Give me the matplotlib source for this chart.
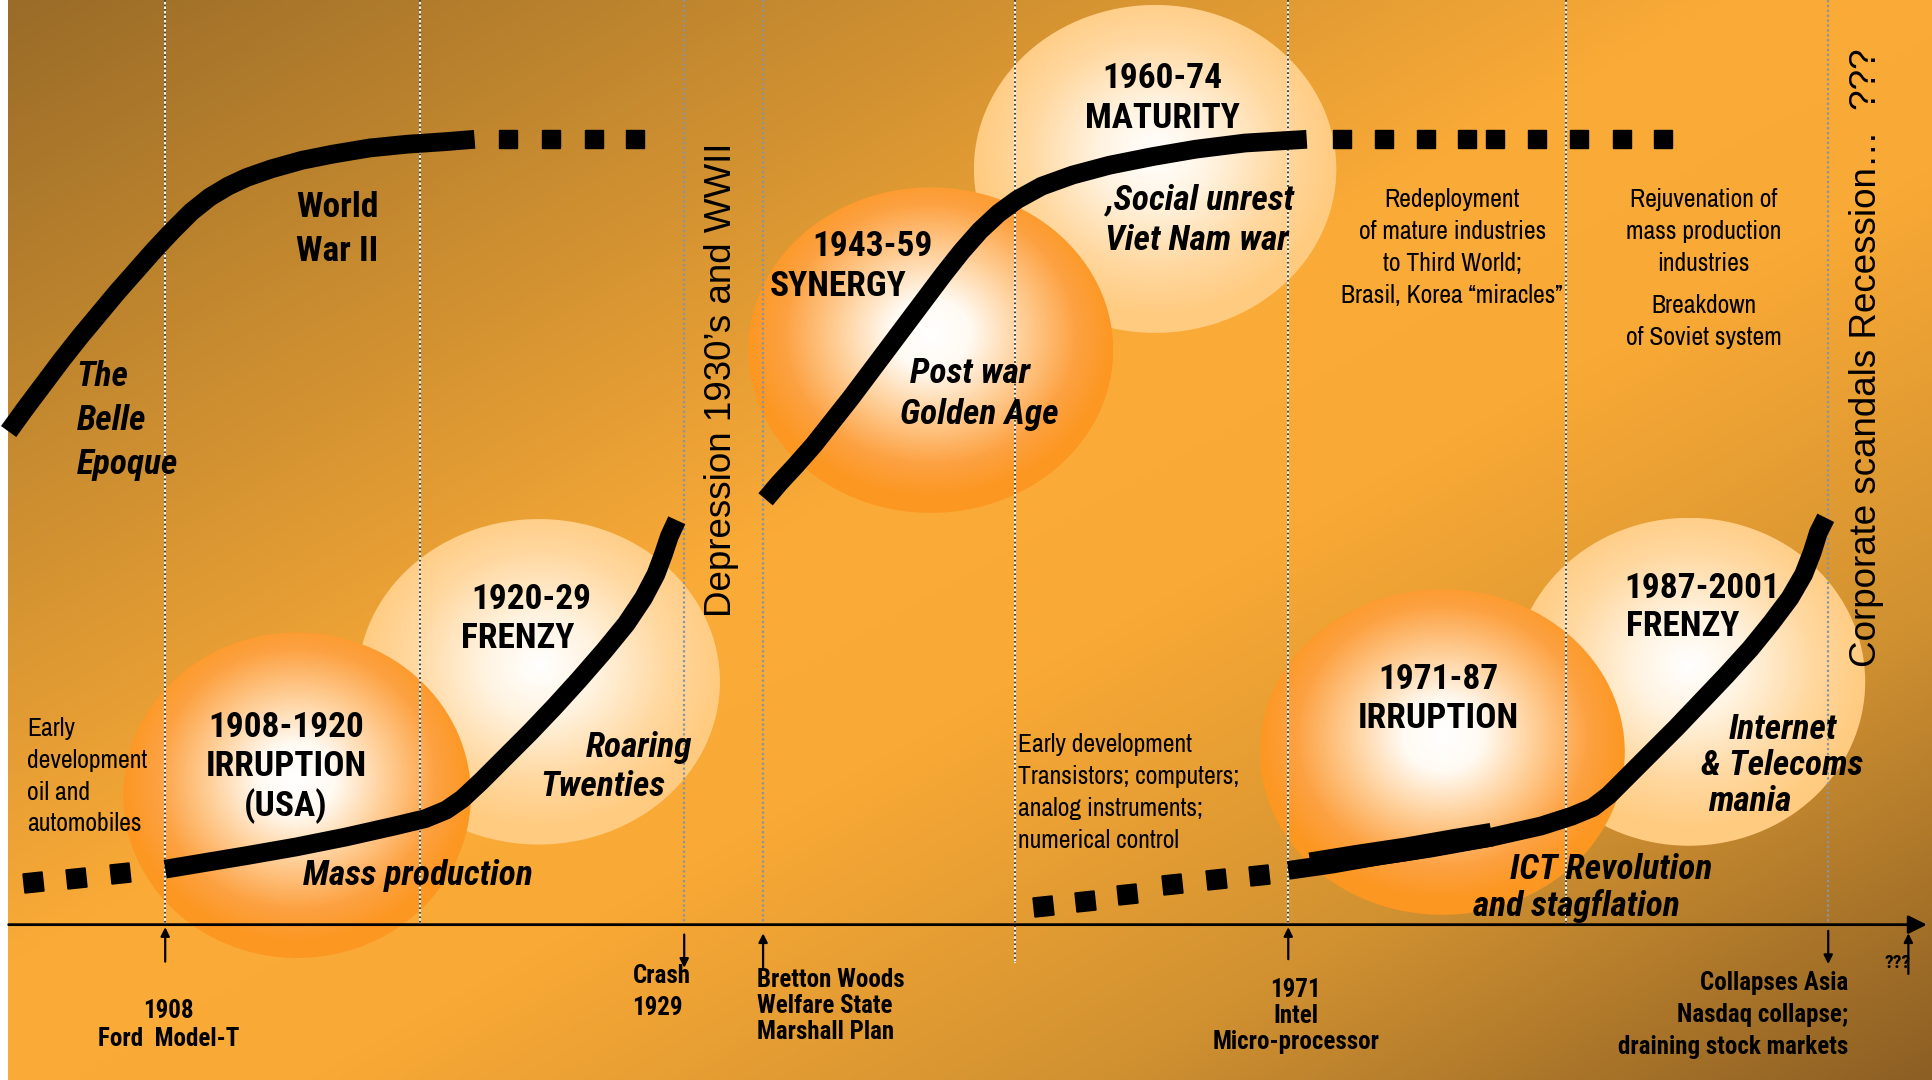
import numpy as np
import matplotlib.pyplot as plt
from matplotlib.patches import Ellipse
from matplotlib.colors import LinearSegmentedColormap

W, H = 1568, 876   # drawing units, y grows downwards

# thick black wave curves
belle_x = [7, 20, 35, 50, 65, 80, 95, 110, 125, 140, 155, 170, 185, 200, 220, 245,
           270, 300, 330, 360, 385]
belle_y = [350, 332, 312, 292, 273, 255, 237, 220, 203, 187, 172, 160, 151, 144, 137, 130,
           125, 120, 117, 115, 113]
mass_x = [134, 170, 200, 240, 280, 320, 345, 362, 375, 390, 410, 430, 450, 470, 490, 508,
          522, 532, 538, 543, 549]
mass_y = [705, 699, 694, 687, 679, 670, 664, 657, 648, 634, 614, 594, 573, 551, 528, 506,
          485, 466, 450, 435, 422]
golden_x = [621, 632, 645, 660, 675, 690, 705, 720, 735, 750, 765, 780, 795, 810, 825, 845,
            870, 900, 935, 970, 1010, 1060]
golden_y = [405, 392, 378, 361, 342, 323, 303, 283, 263, 243, 223, 204, 187, 173, 162, 151,
            142, 134, 127, 121, 116, 113]
ict_x = [1045, 1080, 1120, 1160, 1210, 1250, 1275, 1292, 1305, 1320, 1340, 1360, 1380, 1400,
         1420, 1437, 1452, 1463, 1470, 1475, 1481]
ict_y = [706, 701, 694, 688, 679, 670, 662, 655, 645, 630, 610, 590, 569, 548, 526, 505, 485,
         466, 448, 432, 420]
# thicker stretch of the ICT curve
ict_thick_x = [1063, 1100, 1140, 1180, 1210]
ict_thick_y = [701, 695, 689, 682, 677]

# square dashes continuing the curves
dash_top1_x = [412, 447, 482, 515]
dash_top1_y = [113, 113, 113, 113]
dash_top2_x = [1089, 1123, 1157, 1190, 1213, 1247, 1281, 1316, 1349]
dash_top2_y = [113, 113, 113, 113, 113, 113, 113, 113, 113]
dash_low1_x = [27, 62, 97]
dash_low1_y = [715, 712, 708]
dash_low2_x = [846, 880, 914, 951, 986, 1021]
dash_low2_y = [735, 731, 725, 717, 713, 710]

# phase bubbles
bubble_cx = [241, 437, 755, 937, 1170, 1370]
bubble_cy = [645, 553, 284, 137, 610, 553]
bubble_rx = [141, 147, 148, 147, 148, 143]
bubble_ry = [132, 132, 132, 133, 132, 133]
bubble_kind = ['irruption', 'frenzy', 'synergy', 'maturity', 'irruption', 'frenzy']

# vertical period dividers
divider_x = [134, 341, 555, 619, 823, 1045, 1270, 1483]
divider_end = [750, 750, 750, 750, 780, 750, 750, 750]
divider_kind = ['w', 'w', 'g', 'g', 'w', 'w', 'w', 'g']

# event arrows under the time axis
event_x = [134, 555, 619, 1045, 1483, 1548]
event_from = [780, 758, 785, 778, 755, 790]
event_to = [752, 785, 757, 752, 782, 757]
axis_y = 750

BOLDN = ['Roboto Condensed', 'Liberation Sans', 'DejaVu Sans']
NARROW = ['Archivo Narrow', 'Roboto Condensed', 'Liberation Sans', 'DejaVu Sans']
WIDE = ['Liberation Sans', 'DejaVu Sans']

fig = plt.figure(figsize=(19.33, 10.8), dpi=100, facecolor='white')
ax = fig.add_axes([0, 0, 1, 1])
ax.axis('off')

# background diagonal gradient
gx, gy = np.meshgrid(np.linspace(0, 1, 400), np.linspace(0, 1, 300))
bg = LinearSegmentedColormap.from_list('bg', [
    (0.0, '#9a6c28'), (0.22, '#c98c30'), (0.45, '#fbab37'), (0.58, '#f9a935'),
    (0.78, '#d29231'), (1.0, '#8c5f24')])
ax.imshow(bg((gx + gy) / 2), extent=(6.5, W, H, 0), aspect='auto',
          interpolation='bilinear', zorder=0)

orange_stops = [(0, '#ffffff'), (0.22, '#fffaf2'), (0.5, '#ffd09a'),
                (0.8, '#fda243'), (1.0, '#fc9722')]
pale_stops = [(0, '#ffffff'), (0.3, '#fff4e2'), (0.7, '#ffd8a0'),
              (1.0, '#ffcb80')]


def bubble(cx, cy, rx, ry, stops, z):
    u = np.linspace(-1, 1, 256)
    xx, yy = np.meshgrid(u, u)
    r = np.clip(np.hypot(xx, yy + 0.1), 0, 1)
    cm = LinearSegmentedColormap.from_list('b', stops)
    im = ax.imshow(cm(r), extent=(cx - rx, cx + rx, cy + ry, cy - ry),
                   aspect='auto', interpolation='bilinear', zorder=z)
    im.set_clip_path(Ellipse((cx, cy), 2 * rx, 2 * ry, transform=ax.transData))


for cx, cy, rx, ry, k in zip(bubble_cx, bubble_cy, bubble_rx, bubble_ry, bubble_kind):
    if k in ('frenzy', 'maturity'):
        bubble(cx, cy, rx, ry, pale_stops, 1)
    else:
        bubble(cx, cy, rx, ry, orange_stops, 2)

# dividers
for x, y1, k in zip(divider_x, divider_end, divider_kind):
    if k == 'w':
        ax.plot([x, x], [0, y1], color='white', lw=1.3, zorder=3)
        ax.plot([x, x], [0, y1], color='#333333', lw=1.3, ls=(0, (1, 1.5)), zorder=3)
    else:
        ax.plot([x, x], [0, y1], color='#8a94a0', lw=1.6, ls=(0, (1, 1.2)), zorder=3)

# time axis and event arrows
ax.annotate('', xy=(1563, axis_y), xytext=(7, axis_y),
            arrowprops=dict(arrowstyle='-|>', color='black', lw=2, mutation_scale=28,
                            shrinkA=0, shrinkB=0), zorder=4)
for x, y0, y1 in zip(event_x, event_from, event_to):
    ax.annotate('', xy=(x, y1), xytext=(x, y0),
                arrowprops=dict(arrowstyle='-|>', color='black', lw=1.6, mutation_scale=13,
                                shrinkA=0, shrinkB=0), zorder=4)

# curves
for xs, ys in [(belle_x, belle_y), (mass_x, mass_y), (golden_x, golden_y), (ict_x, ict_y)]:
    ax.plot(xs, ys, color='black', lw=13.5, solid_capstyle='butt',
            solid_joinstyle='round', zorder=5)
ax.plot(ict_thick_x, ict_thick_y, color='black', lw=17, solid_capstyle='butt',
        solid_joinstyle='round', zorder=5)

for xs, ys in [(dash_top1_x, dash_top1_y), (dash_top2_x, dash_top2_y)]:
    ax.plot(xs, ys, ls='none', marker='s', ms=13.5, color='black', zorder=5)
for xs, ys in [(dash_low1_x, dash_low1_y), (dash_low2_x, dash_low2_y)]:
    ax.plot(xs, ys, ls='none', marker=(4, 0, 51), ms=19.5, color='black', zorder=5)


def lines(x, y0, dy, s, size, weight='bold', style='normal', ha='center', family=BOLDN):
    for i, line in enumerate(s.split('\n')):
        ax.text(x, y0 + i * dy, line, fontsize=size, fontweight=weight, fontstyle=style,
                ha=ha, va='center', family=family, zorder=8)


B = 25.5
lines(240, 168, 36, 'World\nWar II', B, ha='left')
lines(62, 305, 36, 'The\nBelle\nEpoque', B, style='italic', ha='left')
lines(708, 200, 0, '1943-59', B)
lines(680, 232, 0, 'SYNERGY', B)
lines(787, 303, 0, 'Post war', B, style='italic')
lines(794, 336, 0, 'Golden Age', B, style='italic')
lines(943, 64, 32, '1960-74\nMATURITY', B)
lines(896, 162, 33, ',Social unrest\nViet Nam war', B, style='italic', ha='left')
lines(232, 590, 32, '1908-1920\nIRRUPTION\n(USA)', B)
lines(431, 486, 0, '1920-29', B)
lines(420, 518, 0, 'FRENZY', B)
lines(518, 606, 0, 'Roaring', B, style='italic')
lines(489, 638, 0, 'Twenties', B, style='italic')
lines(339, 710, 0, 'Mass production', B, style='italic')
lines(1167, 551, 32, '1971-87\nIRRUPTION', B)
lines(1381, 477, 0, '1987-2001', B)
lines(1365, 508, 0, 'FRENZY', B)
lines(1446, 592, 0, 'Internet', B, style='italic')
lines(1446, 621, 0, '& Telecoms', B, style='italic')
lines(1419, 650, 0, 'mania', B, style='italic')
lines(1307, 705, 0, 'ICT Revolution', B, style='italic')
lines(1279, 735, 0, 'and stagflation', B, style='italic')

R = 18.5
lines(22, 591, 25.7, 'Early\ndevelopment\noil and\nautomobiles', R, weight='normal',
      ha='left', family=NARROW)
lines(826, 604, 26, 'Early development\nTransistors; computers;\nanalog instruments;\nnumerical control',
      R, weight='normal', ha='left', family=NARROW)
lines(1178, 162, 26, 'Redeployment\nof mature industries\nto Third World;\nBrasil, Korea \u201cmiracles\u201d',
      R, weight='normal', family=NARROW)
lines(1382, 162, 26, 'Rejuvenation of\nmass production\nindustries', R, weight='normal',
      family=NARROW)
lines(1382, 248, 26, 'Breakdown\nof Soviet system', R, weight='normal', family=NARROW)

S = 18
lines(137, 820, 23, '1908\nFord  Model-T', S)
lines(513, 792, 26, 'Crash\n1929', S, ha='left')
lines(614, 795, 21, 'Bretton Woods\nWelfare State\nMarshall Plan', S, ha='left')
lines(1051, 803, 21, '1971\nIntel\nMicro-processor', S)
lines(1499, 797, 26, 'Collapses Asia\nNasdaq collapse;\ndraining stock markets', S, ha='right')
lines(1539, 781, 0, '???', 14)

ax.text(585, 308, 'Depression 1930\u2019s and WWII', rotation=90, fontsize=26.5,
        ha='center', va='center', family=WIDE, zorder=8)
ax.text(1514, 290, 'Corporate scandals Recession\u2026  ???', rotation=90, fontsize=26.5,
        ha='center', va='center', family=WIDE, zorder=8)

ax.set_xlim(0, W)
ax.set_ylim(H, 0)
fig.savefig('out.png', dpi=100, facecolor='white')
